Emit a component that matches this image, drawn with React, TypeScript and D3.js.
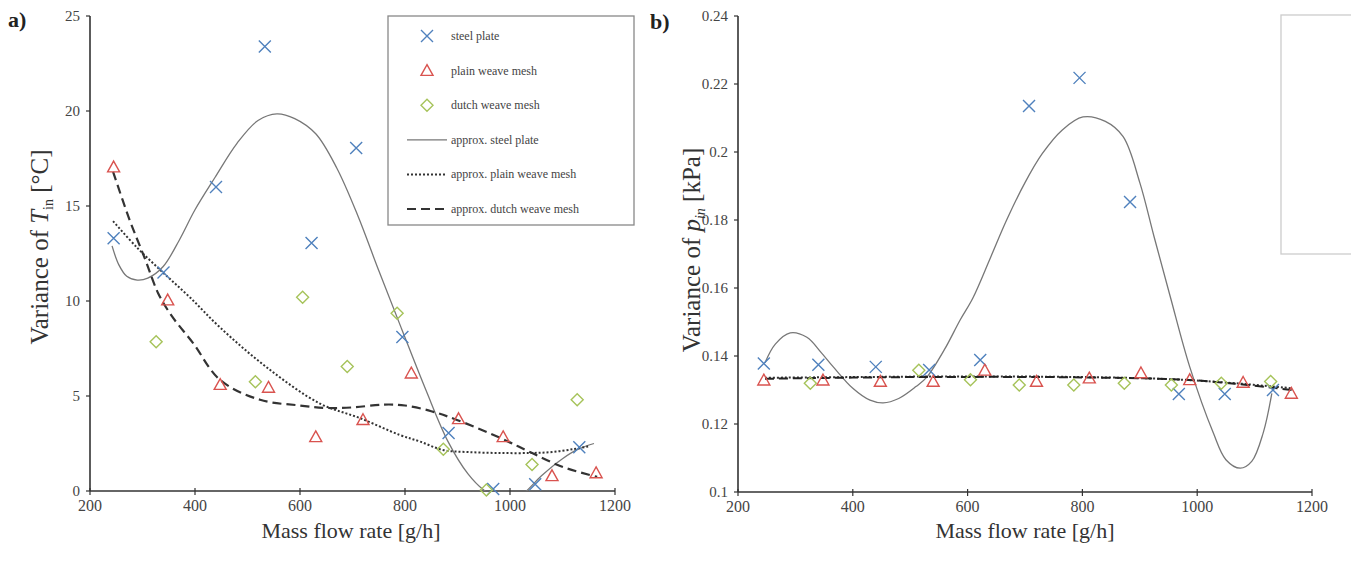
import React from "react";
import * as d3 from "d3";

const W = 1351;
const H = 568;

// ---- x ticks (shared) ----
const xTicks = [200, 400, 600, 800, 1000, 1200];
const yTicksA = [0, 5, 10, 15, 20, 25];
const yTicksB = [0.1, 0.12, 0.14, 0.16, 0.18, 0.2, 0.22, 0.24];

// ---- measured points: a) variance of T_in ----
const steelX = [245, 340, 440, 533, 622, 707, 795, 883, 968, 1048, 1132];
const plainX = [245, 348, 448, 540, 630, 720, 812, 902, 987, 1080, 1164];
const dutchX = [326, 515, 605, 690, 785, 873, 955, 1042, 1128];

const steelA = [13.3, 11.5, 16.0, 23.4, 13.05, 18.05, 8.1, 3.05, 0.1, 0.35, 2.3];
const plainA = [17.05, 10.05, 5.6, 5.45, 2.85, 3.75, 6.2, 3.8, 2.85, 0.8, 0.95];
const dutchA = [7.85, 5.75, 10.2, 6.55, 9.35, 2.2, 0.05, 1.4, 4.8];

// ---- approximation curves: a) ----
const apSteelAx = [242, 255, 270, 290, 310, 339, 370, 400, 438, 480, 520, 556, 590, 630, 670, 710, 750, 794, 840, 882, 920, 950, 985, 1015, 1035, 1060, 1100, 1130, 1160];
const apSteelAy = [12.9, 11.9, 11.3, 11.1, 11.2, 11.8, 13.2, 14.8, 16.5, 18.3, 19.5, 19.85, 19.6, 18.8, 17.0, 14.5, 11.6, 8.5, 5.3, 2.6, 0.9, 0.05, -0.5, -0.4, 0.1, 0.8, 1.7, 2.2, 2.5];
const apPlainAx = [244, 290, 339, 390, 448, 537, 638, 714, 790, 829, 872, 920, 980, 1040, 1080, 1120, 1150];
const apPlainAy = [14.2, 12.8, 11.5, 10.2, 8.6, 6.5, 4.6, 3.84, 2.95, 2.6, 2.16, 2.05, 2.0, 2.0, 2.05, 2.2, 2.35];
const apDutchAx = [244, 275, 305, 330, 356, 396, 448, 524, 600, 651, 700, 760, 800, 850, 899, 981, 1038, 1101, 1166];
const apDutchAy = [16.8, 14.3, 12.2, 10.4, 9.2, 7.8, 5.84, 4.8, 4.5, 4.37, 4.4, 4.55, 4.5, 4.2, 3.74, 2.8, 2.05, 1.26, 0.74];

// ---- measured points: b) variance of p_in ----
const steelB = [0.1378, 0.1374, 0.1368, 0.1359, 0.1388, 0.2135, 0.2218, 0.1853, 0.1288, 0.1288, 0.1300];
const plainB = [0.1329, 0.1329, 0.1325, 0.1325, 0.1358, 0.1325, 0.1335, 0.1350, 0.1330, 0.1322, 0.1290];
const dutchB = [0.1320, 0.1358, 0.1330, 0.1315, 0.1315, 0.1320, 0.1315, 0.1320, 0.1325];

// ---- approximation curves: b) ----
const apSteelBx = [247, 265, 291, 320, 345, 366, 400, 430, 453, 480, 510, 529, 560, 587, 609, 640, 668, 700, 730, 765, 801, 840, 871, 900, 925, 953, 987, 1028, 1050, 1075, 1095, 1115, 1130];
const apSteelBy = [0.138, 0.1435, 0.1468, 0.1455, 0.141, 0.1368, 0.1305, 0.127, 0.1262, 0.1275, 0.131, 0.1338, 0.142, 0.1506, 0.157, 0.169, 0.18, 0.191, 0.1995, 0.2065, 0.2103, 0.209, 0.2045, 0.191, 0.175, 0.1575, 0.1368, 0.1174, 0.1095, 0.107, 0.109, 0.1174, 0.129];
const apPlainBx = [247, 400, 600, 800, 950, 1050, 1165];
const apPlainBy = [0.1336, 0.1338, 0.134, 0.1338, 0.1332, 0.1322, 0.1305];
const apDutchBx = [247, 500, 800, 1000, 1165];
const apDutchBy = [0.1333, 0.1338, 0.1337, 0.1328, 0.1300];

const legendItems = [
  "steel plate",
  "plain weave mesh",
  "dutch weave mesh",
  "approx. steel plate",
  "approx. plain weave mesh",
  "approx. dutch weave mesh",
];

const BLUE = "#4f81bd";
const RED = "#d9534f";
const GREEN = "#a6c35a";
const FONT = "'Liberation Serif', 'DejaVu Serif', serif";
const txt = { fontFamily: FONT };

type Sc = d3.ScaleLinear<number, number>;

function Cross({ x, y }: { x: number; y: number }) {
  const s = 6;
  return (
    <path d={`M${x - s},${y - s}L${x + s},${y + s}M${x - s},${y + s}L${x + s},${y - s}`} stroke={BLUE} strokeWidth={1.4} fill="none" />
  );
}
function Tri({ x, y }: { x: number; y: number }) {
  const s = 6;
  return <path d={`M${x},${y - s}L${x + s},${y + s * 0.8}L${x - s},${y + s * 0.8}Z`} stroke={RED} strokeWidth={1.4} fill="none" />;
}
function Dia({ x, y }: { x: number; y: number }) {
  const s = 6;
  return <path d={`M${x},${y - s}L${x + s},${y}L${x},${y + s}L${x - s},${y}Z`} stroke={GREEN} strokeWidth={1.4} fill="none" />;
}

function curvePath(xs: number[], ys: number[], sx: Sc, sy: Sc) {
  const pts = xs.map((v, i) => [v, ys[i]] as [number, number]);
  return d3
    .line<[number, number]>()
    .x((d) => sx(d[0]))
    .y((d) => sy(d[1]))
    .curve(d3.curveCatmullRom.alpha(0.5))(pts) as string;
}

function Axes({ sx, sy, yTicks, fmt }: { sx: Sc; sy: Sc; yTicks: number[]; fmt: (v: number) => string }) {
  const [x0, x1] = sx.range();
  const [y0, y1] = sy.range();
  return (
    <g>
      <line x1={x0} x2={x1} y1={y0} y2={y0} stroke="#333" strokeWidth={1.6} />
      <line x1={x0} x2={x0} y1={y0} y2={y1} stroke="#333" strokeWidth={1.6} />
      {xTicks.map((t) => (
        <g key={t}>
          <line x1={sx(t)} x2={sx(t)} y1={y0 - 3} y2={y0 + 4} stroke="#333" strokeWidth={1.2} />
          <text x={sx(t)} y={y0 + 20} style={txt} fontSize={16} fill="#444" textAnchor="middle">
            {t}
          </text>
        </g>
      ))}
      {yTicks.map((t) => (
        <g key={t}>
          <line x1={x0 - 4} x2={x0} y1={sy(t)} y2={sy(t)} stroke="#333" strokeWidth={1.2} />
          <text x={x0 - 10} y={sy(t) + 5} style={txt} fontSize={15} fill="#444" textAnchor="end">
            {fmt(t)}
          </text>
        </g>
      ))}
    </g>
  );
}

export default function App() {
  const sxA = d3.scaleLinear().domain([200, 1200]).range([90, 615]);
  const syA = d3.scaleLinear().domain([0, 25]).range([491, 16]);
  const sxB = d3.scaleLinear().domain([200, 1200]).range([738, 1312]);
  const syB = d3.scaleLinear().domain([0.1, 0.24]).range([492, 16]);

  const fmtB = (v: number) => String(+v.toFixed(2));

  const legX = 388, legY = 16, legW = 246, legH = 209;
  const legRow = (i: number) => legY + 20 + i * 34.6;

  return (
    <svg width={W} height={H} style={{ display: "block", background: "#fff", position: "absolute", left: 0, top: 0 }}>
      <defs>
        <clipPath id="clipA">
          <rect x={90} y={10} width={530} height={481} />
        </clipPath>
      </defs>

      {/* ---------- panel a ---------- */}
      <text x={8} y={27} style={txt} fontSize={22} fontWeight="bold" fill="#222">a)</text>
      <Axes sx={sxA} sy={syA} yTicks={yTicksA} fmt={(v) => String(v)} />
      <text x={351} y={538} style={txt} fontSize={22} textAnchor="middle" fill="#333">
        Mass flow rate [g/h]
      </text>
      <text transform="translate(48,247) rotate(-90)" style={txt} fontSize={25} textAnchor="middle" fill="#333">
        Variance of <tspan fontStyle="italic">T</tspan>
        <tspan fontSize={14} dy={5}>in</tspan>
        <tspan dy={-5}> [°C]</tspan>
      </text>

      <g clipPath="url(#clipA)" fill="none">
        <path d={curvePath(apSteelAx, apSteelAy, sxA, syA)} stroke="#777" strokeWidth={1.3} />
        <path d={curvePath(apPlainAx, apPlainAy, sxA, syA)} stroke="#333" strokeWidth={2} strokeDasharray="2,2" />
        <path d={curvePath(apDutchAx, apDutchAy, sxA, syA)} stroke="#333" strokeWidth={2.2} strokeDasharray="9,5" />
      </g>
      {steelX.map((x, i) => <Cross key={"sa" + i} x={sxA(x)} y={syA(steelA[i])} />)}
      {plainX.map((x, i) => <Tri key={"pa" + i} x={sxA(x)} y={syA(plainA[i])} />)}
      {dutchX.map((x, i) => <Dia key={"da" + i} x={sxA(x)} y={syA(dutchA[i])} />)}

      {/* legend */}
      <rect x={legX} y={legY} width={legW} height={legH} fill="#fff" stroke="#888" strokeWidth={1.3} />
      {legendItems.map((t, i) => {
        const y = legRow(i);
        return (
          <g key={t}>
            {i === 0 && <Cross x={427} y={y} />}
            {i === 1 && <Tri x={427} y={y} />}
            {i === 2 && <Dia x={427} y={y} />}
            {i === 3 && <line x1={407} x2={447} y1={y} y2={y} stroke="#777" strokeWidth={1.3} />}
            {i === 4 && <line x1={407} x2={447} y1={y} y2={y} stroke="#333" strokeWidth={2} strokeDasharray="2,2" />}
            {i === 5 && <line x1={407} x2={447} y1={y} y2={y} stroke="#333" strokeWidth={2.2} strokeDasharray="9,5" />}
            <text x={451} y={y + 4} style={txt} fontSize={12} fill="#444">{t}</text>
          </g>
        );
      })}

      {/* ---------- panel b ---------- */}
      <text x={650} y={29} style={txt} fontSize={22} fontWeight="bold" fill="#222">b)</text>
      <Axes sx={sxB} sy={syB} yTicks={yTicksB} fmt={fmtB} />
      <text x={1025} y={538} style={txt} fontSize={22} textAnchor="middle" fill="#333">
        Mass flow rate [g/h]
      </text>
      <text transform="translate(700,250) rotate(-90)" style={txt} fontSize={25} textAnchor="middle" fill="#333">
        Variance of <tspan fontStyle="italic">p</tspan>
        <tspan fontSize={14} dy={5} fontStyle="italic">in</tspan>
        <tspan dy={-5}> [kPa]</tspan>
      </text>

      <g fill="none">
        <path d={curvePath(apSteelBx, apSteelBy, sxB, syB)} stroke="#777" strokeWidth={1.3} />
        <path d={curvePath(apPlainBx, apPlainBy, sxB, syB)} stroke="#333" strokeWidth={2} strokeDasharray="2,2" />
        <path d={curvePath(apDutchBx, apDutchBy, sxB, syB)} stroke="#222" strokeWidth={2} strokeDasharray="9,5" />
      </g>
      {steelX.map((x, i) => <Cross key={"sb" + i} x={sxB(x)} y={syB(steelB[i])} />)}
      {plainX.map((x, i) => <Tri key={"pb" + i} x={sxB(x)} y={syB(plainB[i])} />)}
      {dutchX.map((x, i) => <Dia key={"db" + i} x={sxB(x)} y={syB(dutchB[i])} />)}

      {/* empty legend frame at top right */}
      <rect x={1281} y={15} width={80} height={239} fill="#fff" stroke="#ccc" strokeWidth={1.3} />
    </svg>
  );
}
